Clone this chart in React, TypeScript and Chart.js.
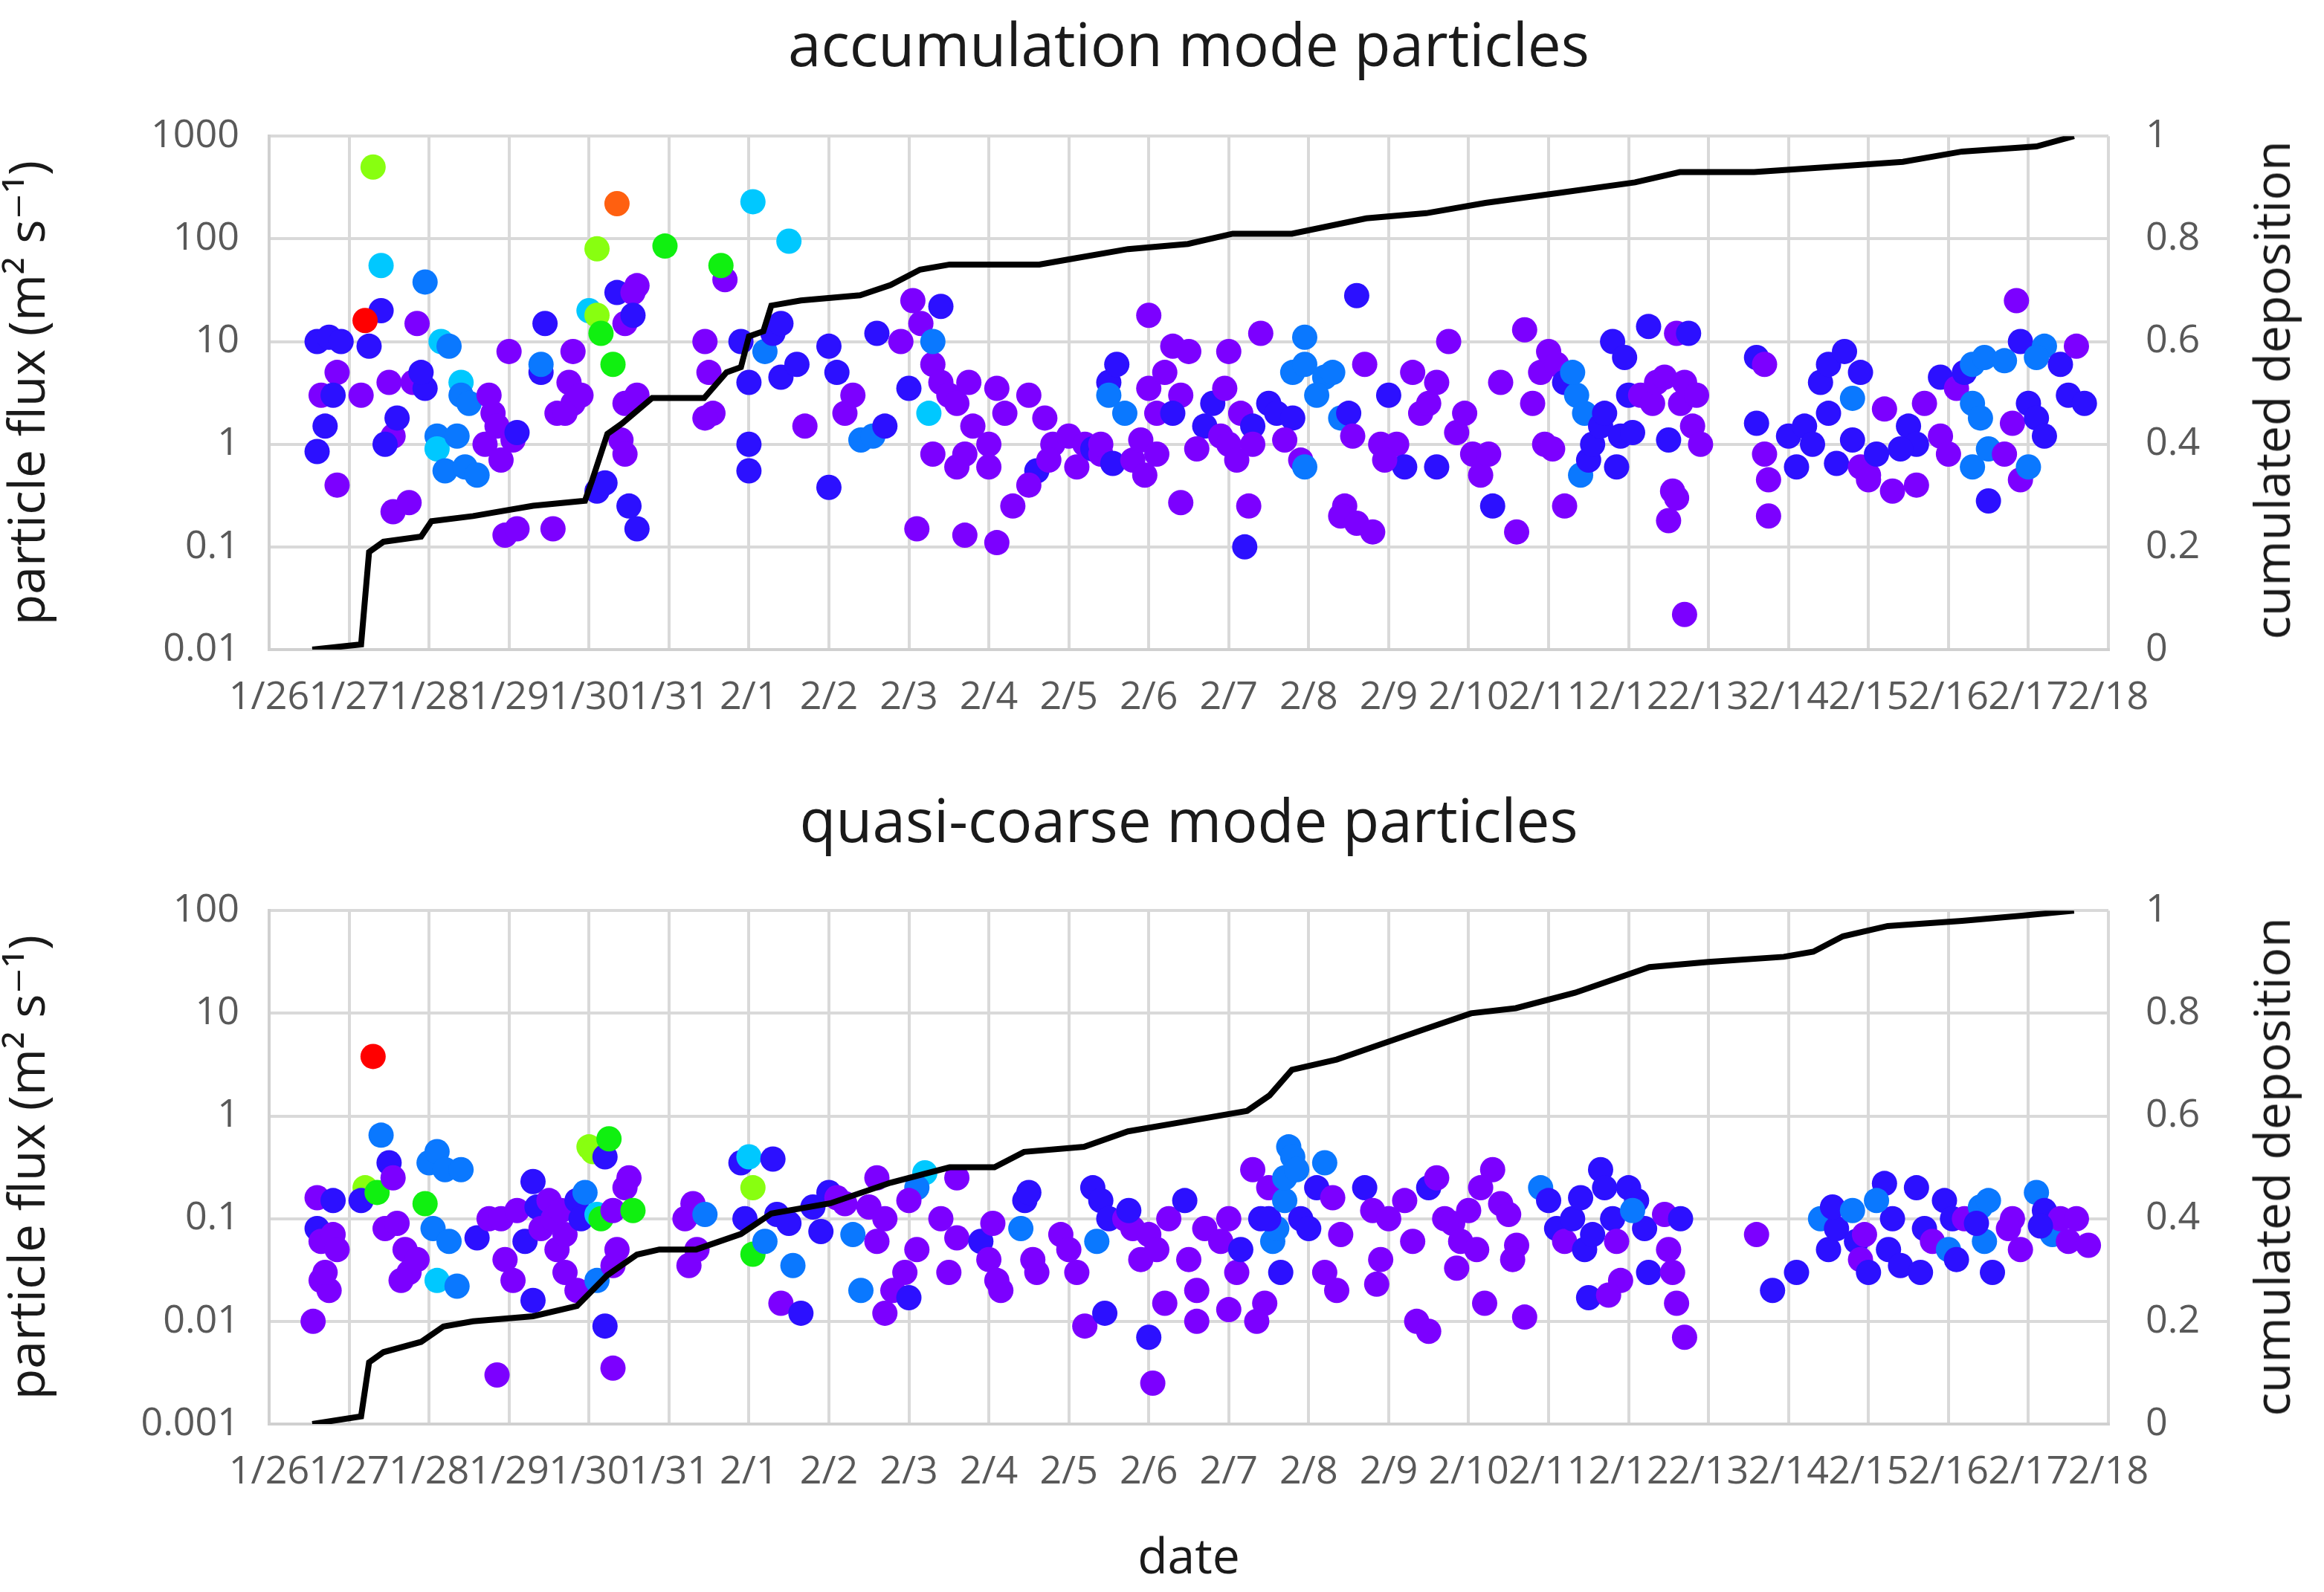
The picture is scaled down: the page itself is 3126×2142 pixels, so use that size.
import React, { useEffect, useRef } from "react";
import { Chart, registerables } from "chart.js";
Chart.register(...registerables);

const dateLabels = ["1/26","1/27","1/28","1/29","1/30","1/31","2/1","2/2","2/3","2/4","2/5","2/6","2/7","2/8","2/9","2/10","2/11","2/12","2/13","2/14","2/15","2/16","2/17","2/18"];
const topLogTicks = [0.01, 0.1, 1, 10, 100, 1000];
const bottomLogTicks = [0.001, 0.01, 0.1, 1, 10, 100];
const rightTicks = [0, 0.2, 0.4, 0.6, 0.8, 1];

const colorCodes: Record<string, string> = {
  p: "#7c00ff", b: "#2c10ff", l: "#0a78ff", c: "#00c8ff", g: "#10f010", y: "#88ff10", o: "#ff6010", r: "#ff0000",
};

// [day, flux, colour code]
const topPoints: [number, number, string][] = [
  [0.6,10,"b"],[0.65,3,"p"],[0.6,0.85,"b"],[0.7,1.5,"b"],[0.75,11,"b"],
  [0.85,5,"p"],[0.8,3,"b"],[0.85,0.4,"p"],[0.9,10,"b"],
  [1.15,3,"p"],[1.25,9,"b"],[1.4,20,"b"],[1.4,55,"c"],[1.2,16,"r"],[1.3,500,"y"],
  [1.55,1.2,"p"],[1.5,4,"p"],[1.6,1.8,"b"],[1.55,0.22,"p"],[1.75,0.27,"p"],[1.45,1,"b"],
  [1.85,15,"p"],[1.8,4,"p"],[1.95,3.5,"b"],[1.95,38,"l"],[1.9,5,"b"],
  [2.15,10,"c"],[2.1,1.2,"l"],[2.1,0.9,"c"],[2.2,0.55,"l"],[2.25,9,"l"],
  [2.4,4,"c"],[2.4,3,"l"],[2.5,2.5,"l"],[2.45,0.6,"l"],[2.35,1.2,"l"],[2.6,0.5,"l"],
  [2.75,3,"p"],[2.8,2,"p"],[2.85,1.5,"p"],[2.7,1,"p"],[2.9,0.7,"p"],
  [3.0,8,"p"],[3.05,1.1,"p"],[2.95,0.13,"p"],[3.1,0.15,"p"],[3.1,1.3,"b"],
  [3.4,5,"b"],[3.4,6,"l"],[3.45,15,"b"],[3.55,0.15,"p"],[3.6,2,"p"],
  [3.75,4,"p"],[3.8,2.5,"p"],[3.8,8,"p"],[3.7,2,"p"],[3.9,3,"p"],
  [4.0,20,"c"],[4.1,0.35,"b"],[4.2,0.42,"b"],[4.35,30,"b"],
  [4.45,15,"p"],[4.6,35,"p"],[4.55,30,"p"],[4.55,18,"b"],[4.4,1.1,"p"],[4.45,0.8,"p"],[4.5,0.25,"b"],[4.6,0.15,"b"],[4.45,2.5,"p"],[4.6,3,"p"],
  [4.1,18,"y"],[4.15,12,"g"],[4.1,80,"y"],[4.3,6,"g"],[4.35,220,"o"],[4.95,85,"g"],
  [5.7,40,"p"],[5.45,10,"p"],[5.5,5,"p"],[5.55,2,"p"],[5.45,1.8,"p"],[5.65,55,"g"],
  [5.9,10,"b"],[6.0,4,"b"],[6.0,1,"b"],[6.0,0.55,"b"],[6.05,230,"c"],
  [6.5,95,"c"],[6.2,8,"l"],[6.3,12,"b"],[6.4,15,"b"],[6.4,4.5,"b"],[6.6,6,"b"],[6.7,1.5,"p"],
  [7.0,9,"b"],[7.1,5,"b"],[7.2,2,"p"],[7.3,3,"p"],[7.4,1.1,"l"],[7.0,0.38,"b"],
  [7.6,12,"b"],[7.55,1.2,"l"],[7.7,1.5,"b"],
  [7.9,10,"p"],[8.0,3.5,"b"],[8.05,25,"p"],[8.15,15,"p"],[8.3,6,"p"],
  [8.3,10,"l"],[8.25,2,"c"],[8.4,4,"p"],[8.4,22,"b"],[8.3,0.8,"p"],[8.5,3,"p"],
  [8.6,2.5,"p"],[8.1,0.15,"p"],[8.6,0.6,"p"],[8.75,4,"p"],[8.7,0.8,"p"],[8.8,1.5,"p"],
  [8.7,0.13,"p"],[9.0,0.6,"p"],[9.1,3.5,"p"],[9.2,2,"p"],[9.1,0.11,"p"],[9.0,1,"p"],[9.3,0.25,"p"],
  [9.6,0.55,"b"],[9.5,3,"p"],[9.7,1.8,"p"],[9.8,1,"p"],[9.5,0.4,"p"],[9.75,0.7,"p"],
  [10.0,1.2,"p"],[10.2,1,"p"],[10.1,0.6,"p"],[10.3,0.9,"b"],[10.4,0.8,"p"],
  [10.5,4,"b"],[10.6,6,"b"],[10.5,3,"l"],[10.7,2,"l"],[10.4,1,"p"],[10.55,0.65,"b"],[10.8,0.7,"p"],
  [10.9,1.1,"p"],[11.0,3.5,"p"],[11.1,2,"p"],[10.95,0.5,"p"],[11.0,18,"p"],
  [11.3,9,"p"],[11.2,5,"p"],[11.4,3,"p"],[11.3,2,"b"],[11.4,0.27,"p"],[11.1,0.8,"p"],[11.5,8,"p"],
  [11.7,1.5,"b"],[11.8,2.5,"b"],[11.9,1.2,"p"],[11.6,0.9,"p"],[12.0,1,"p"],[12.1,0.7,"p"],
  [12.0,8,"p"],[12.15,2,"p"],[12.3,1.5,"b"],[11.95,3.5,"p"],
  [12.4,12,"p"],[12.5,2.5,"b"],[12.3,1,"p"],[12.6,2,"b"],[12.2,0.1,"b"],[12.25,0.25,"p"],
  [12.8,1.8,"b"],[12.7,1.1,"p"],[12.9,0.7,"p"],[12.95,0.6,"l"],[12.8,5,"l"],[12.95,6,"l"],
  [13.2,4.5,"l"],[13.1,3,"l"],[13.3,5,"l"],[13.4,1.8,"l"],[13.5,2,"b"],[13.6,28,"b"],[12.95,11,"l"],
  [13.7,6,"p"],[13.55,1.2,"p"],[13.45,0.25,"p"],[13.4,0.2,"p"],[13.6,0.17,"p"],[13.8,0.14,"p"],[13.9,1,"p"],
  [14.0,3,"b"],[14.1,1,"p"],[14.2,0.6,"b"],[13.95,0.7,"p"],[14.3,5,"p"],[14.4,2,"p"],
  [14.5,2.5,"p"],[14.6,4,"p"],[14.75,10,"p"],[14.6,0.6,"b"],[14.85,1.3,"p"],
  [14.95,2,"p"],[15.05,0.8,"p"],[15.15,0.5,"p"],[15.25,0.8,"p"],[15.3,0.25,"b"],
  [15.4,4,"p"],[15.6,0.14,"p"],[15.7,13,"p"],[15.8,2.5,"p"],[15.9,5,"p"],
  [16.0,8,"p"],[16.1,6,"p"],[16.2,0.25,"p"],[15.95,1,"p"],[16.05,0.9,"p"],
  [16.2,4,"b"],[16.35,3,"l"],[16.45,2,"l"],[16.3,5,"l"],[16.4,0.5,"l"],[16.5,0.7,"b"],[16.55,1,"b"],[16.65,1.5,"b"],
  [16.7,2,"b"],[16.8,10,"b"],[16.9,1.2,"b"],[16.95,7,"b"],[16.85,0.6,"b"],[17.0,3,"b"],
  [17.05,1.3,"b"],[17.15,3,"p"],[17.25,14,"b"],[17.3,2.5,"p"],[17.35,4,"p"],
  [17.45,4.5,"p"],[17.5,1.1,"b"],[17.6,12,"p"],[17.65,2.5,"p"],[17.55,0.35,"p"],[17.5,0.18,"p"],
  [17.75,12,"b"],[17.8,1.5,"p"],[17.7,4,"p"],[17.6,0.3,"p"],[17.9,1,"p"],[17.7,0.022,"p"],[17.85,3,"p"],
  [18.6,7,"b"],[18.7,6,"p"],[18.6,1.6,"b"],[18.7,0.8,"p"],[18.75,0.45,"p"],[18.75,0.2,"p"],
  [19.0,1.2,"b"],[19.1,0.6,"b"],[19.2,1.5,"b"],
  [19.4,4,"b"],[19.5,6,"b"],[19.5,2,"b"],[19.3,1,"b"],[19.6,0.65,"b"],[19.7,8,"b"],
  [19.8,2.8,"l"],[19.9,5,"b"],[19.8,1.1,"b"],[19.9,0.6,"p"],[20.0,0.5,"p"],
  [20.2,2.2,"p"],[20.3,0.35,"p"],[20.1,0.8,"b"],[20.0,0.45,"p"],
  [20.5,1.5,"b"],[20.6,1,"b"],[20.4,0.9,"b"],[20.7,2.5,"p"],[20.6,0.4,"p"],
  [20.9,1.2,"p"],[21.0,0.8,"p"],[20.9,4.5,"b"],[21.1,3.5,"p"],
  [21.2,5,"b"],[21.3,2.5,"l"],[21.4,1.8,"l"],[21.3,6,"l"],[21.45,7,"l"],[21.3,0.6,"l"],[21.5,0.28,"b"],[21.5,0.9,"l"],
  [21.7,6.5,"l"],[21.9,10,"b"],[21.7,0.8,"p"],[21.8,1.6,"p"],[21.85,25,"p"],[21.9,0.45,"p"],
  [22.0,2.5,"b"],[22.1,1.8,"b"],[22.2,1.2,"b"],[22.0,0.6,"l"],[22.2,9,"l"],[22.1,7,"l"],
  [22.4,6,"b"],[22.5,3,"b"],[22.6,9,"p"],[22.7,2.5,"b"],
];

const bottomPoints: [number, number, string][] = [
  [0.55,0.01,"p"],[0.6,0.16,"p"],[0.6,0.08,"b"],[0.65,0.06,"p"],[0.65,0.025,"p"],[0.75,0.02,"p"],
  [0.8,0.15,"b"],[0.8,0.07,"p"],[0.85,0.05,"p"],[0.7,0.03,"p"],
  [1.2,0.2,"y"],[1.15,0.15,"b"],[1.3,3.8,"r"],[1.4,0.65,"l"],[1.35,0.18,"g"],
  [1.5,0.35,"b"],[1.55,0.25,"p"],[1.45,0.08,"p"],[1.6,0.09,"p"],
  [1.7,0.05,"p"],[1.75,0.03,"p"],[1.65,0.025,"p"],[1.85,0.04,"p"],
  [2.0,0.35,"l"],[2.1,0.45,"l"],[2.2,0.3,"l"],[2.05,0.08,"l"],[2.1,0.025,"c"],[1.95,0.14,"g"],
  [2.4,0.3,"l"],[2.25,0.06,"l"],[2.35,0.022,"l"],
  [2.6,0.065,"b"],[2.75,0.1,"p"],[2.85,0.003,"p"],[2.9,0.1,"p"],
  [2.95,0.04,"p"],[3.05,0.025,"p"],[3.1,0.12,"p"],[3.2,0.06,"b"],
  [3.3,0.23,"b"],[3.35,0.13,"b"],[3.3,0.016,"b"],[3.4,0.08,"p"],[3.5,0.15,"p"],
  [3.55,0.1,"p"],[3.6,0.05,"p"],[3.65,0.12,"p"],[3.7,0.07,"p"],[3.7,0.03,"p"],
  [3.85,0.15,"b"],[3.9,0.1,"b"],[3.95,0.18,"l"],[3.85,0.02,"p"],
  [4.0,0.5,"y"],[4.05,0.45,"y"],[4.2,0.4,"b"],[4.25,0.6,"g"],[4.1,0.11,"c"],[4.15,0.1,"g"],[4.1,0.025,"l"],[4.2,0.009,"b"],[4.3,0.0035,"p"],
  [4.3,0.12,"p"],[4.45,0.2,"p"],[4.5,0.25,"p"],[4.35,0.05,"p"],[4.3,0.035,"p"],[4.55,0.12,"g"],
  [5.3,0.14,"p"],[5.2,0.1,"p"],[5.25,0.035,"p"],[5.35,0.05,"p"],[5.45,0.11,"l"],
  [5.9,0.35,"b"],[6.0,0.4,"c"],[6.05,0.2,"y"],[5.95,0.1,"b"],[6.05,0.045,"g"],[6.2,0.06,"l"],[6.3,0.38,"b"],
  [6.35,0.11,"b"],[6.5,0.09,"b"],[6.4,0.015,"p"],[6.55,0.035,"l"],[6.65,0.012,"b"],
  [6.8,0.13,"b"],[6.9,0.075,"b"],[7.0,0.18,"b"],[7.1,0.16,"p"],[7.2,0.14,"p"],
  [7.3,0.07,"l"],[7.4,0.02,"l"],[7.5,0.13,"p"],
  [7.6,0.25,"p"],[7.7,0.1,"p"],[7.6,0.06,"p"],[7.8,0.02,"p"],[7.7,0.012,"p"],
  [8.2,0.28,"c"],[8.1,0.2,"l"],[8.0,0.15,"p"],[8.1,0.05,"p"],[7.95,0.03,"p"],[8.0,0.017,"b"],
  [8.4,0.1,"p"],[8.5,0.03,"p"],[8.6,0.065,"p"],[8.6,0.25,"p"],
  [8.9,0.06,"b"],[9.0,0.04,"p"],[9.1,0.025,"p"],[9.15,0.02,"p"],[9.05,0.09,"p"],
  [9.45,0.15,"b"],[9.5,0.18,"b"],[9.4,0.08,"l"],[9.6,0.03,"p"],[9.55,0.04,"p"],
  [9.9,0.07,"p"],[10.0,0.05,"p"],[10.1,0.03,"p"],[10.2,0.009,"p"],
  [10.3,0.2,"b"],[10.4,0.15,"b"],[10.5,0.1,"b"],[10.45,0.012,"b"],[10.35,0.06,"l"],
  [10.7,0.1,"p"],[10.8,0.08,"p"],[10.9,0.04,"p"],[10.75,0.12,"b"],
  [11.0,0.07,"p"],[11.1,0.05,"p"],[11.2,0.015,"p"],[11.0,0.007,"b"],[11.05,0.0025,"p"],[11.25,0.1,"p"],
  [11.5,0.04,"p"],[11.6,0.02,"p"],[11.7,0.08,"p"],[11.6,0.01,"p"],[11.45,0.15,"b"],
  [11.9,0.06,"p"],[12.0,0.1,"p"],[12.1,0.03,"p"],[12.0,0.013,"p"],[12.15,0.05,"b"],
  [12.3,0.3,"p"],[12.4,0.1,"b"],[12.5,0.2,"p"],[12.45,0.015,"p"],[12.35,0.01,"p"],[12.55,0.06,"l"],
  [12.6,0.08,"l"],[12.65,0.03,"b"],[12.5,0.1,"b"],[12.7,0.15,"l"],
  [12.7,0.25,"l"],[12.75,0.5,"l"],[12.8,0.4,"l"],[12.85,0.3,"l"],[12.9,0.1,"b"],[13.0,0.08,"b"],
  [13.1,0.2,"b"],[13.2,0.35,"l"],[13.3,0.16,"p"],[13.2,0.03,"p"],[13.35,0.02,"p"],[13.4,0.07,"p"],
  [13.7,0.2,"b"],[13.8,0.12,"p"],[13.9,0.04,"p"],[13.85,0.023,"p"],[14.0,0.1,"p"],
  [14.2,0.15,"p"],[14.3,0.06,"p"],[14.35,0.01,"p"],[14.5,0.008,"p"],[14.5,0.2,"b"],
  [14.6,0.25,"p"],[14.7,0.1,"p"],[14.8,0.09,"p"],[14.9,0.06,"p"],[14.85,0.033,"p"],
  [15.0,0.12,"p"],[15.1,0.05,"p"],[15.15,0.2,"p"],[15.2,0.015,"p"],[15.3,0.3,"p"],
  [15.4,0.14,"p"],[15.5,0.11,"p"],[15.6,0.055,"p"],[15.55,0.04,"p"],[15.7,0.011,"p"],
  [15.9,0.2,"l"],[16.0,0.15,"b"],[16.1,0.08,"b"],[16.2,0.06,"p"],
  [16.3,0.1,"b"],[16.4,0.16,"b"],[16.45,0.05,"b"],[16.5,0.017,"b"],[16.55,0.07,"b"],
  [16.65,0.3,"b"],[16.7,0.2,"b"],[16.8,0.1,"b"],[16.85,0.06,"p"],[16.9,0.025,"p"],[16.75,0.018,"p"],
  [17.0,0.2,"b"],[17.1,0.15,"b"],[17.2,0.08,"b"],[17.25,0.03,"b"],[17.05,0.12,"l"],
  [17.45,0.11,"p"],[17.5,0.05,"p"],[17.55,0.03,"p"],[17.6,0.015,"p"],[17.7,0.007,"p"],[17.65,0.1,"b"],
  [18.6,0.07,"p"],[18.8,0.02,"b"],
  [19.1,0.03,"b"],
  [19.4,0.1,"l"],[19.5,0.05,"b"],[19.6,0.08,"b"],[19.55,0.13,"b"],
  [19.8,0.12,"l"],[19.85,0.06,"b"],[19.9,0.04,"p"],[20.0,0.03,"b"],[19.95,0.07,"p"],
  [20.2,0.22,"b"],[20.3,0.1,"b"],[20.25,0.05,"b"],[20.4,0.035,"b"],[20.1,0.15,"l"],
  [20.6,0.2,"b"],[20.7,0.08,"b"],[20.65,0.03,"b"],[20.8,0.06,"p"],
  [20.95,0.15,"b"],[21.05,0.1,"b"],[21.0,0.05,"l"],[21.1,0.04,"b"],[21.2,0.1,"p"],
  [21.4,0.13,"l"],[21.5,0.15,"l"],[21.45,0.06,"l"],[21.55,0.03,"b"],[21.35,0.09,"b"],
  [21.8,0.1,"p"],[21.9,0.05,"p"],[21.75,0.08,"p"],
  [22.1,0.18,"l"],[22.2,0.12,"b"],[22.3,0.07,"l"],[22.4,0.1,"p"],[22.15,0.085,"b"],
  [22.5,0.06,"p"],[22.6,0.1,"p"],[22.75,0.055,"p"],
];

// [day, cumulated deposition]
const topCumulative: [number, number][] = [
  [0.54,0],[1.15,0.01],[1.25,0.19],[1.43,0.21],[1.9,0.22],[2.03,0.25],[2.55,0.26],[3.3,0.28],[3.95,0.29],
  [4.04,0.33],[4.23,0.42],[4.41,0.44],[4.79,0.49],[5.44,0.49],[5.72,0.54],[5.9,0.55],[6.0,0.61],[6.18,0.62],
  [6.28,0.67],[6.65,0.68],[7.39,0.69],[7.77,0.71],[8.14,0.74],[8.51,0.75],[9.63,0.75],[10.0,0.76],[10.74,0.78],
  [11.49,0.79],[12.05,0.81],[12.79,0.81],[13.72,0.84],[14.47,0.85],[15.21,0.87],[16.15,0.89],[17.08,0.91],
  [17.64,0.93],[18.57,0.93],[19.5,0.94],[20.43,0.95],[21.17,0.97],[22.1,0.98],[22.57,1.0],
];
const bottomCumulative: [number, number][] = [
  [0.54,0],[1.15,0.015],[1.25,0.12],[1.43,0.14],[1.9,0.16],[2.18,0.19],[2.55,0.2],[3.3,0.21],[3.85,0.23],
  [4.23,0.29],[4.6,0.33],[4.88,0.34],[5.34,0.34],[5.9,0.37],[6.28,0.41],[7.02,0.43],[7.77,0.47],[8.51,0.5],
  [9.07,0.5],[9.44,0.53],[10.19,0.54],[10.74,0.57],[11.49,0.59],[12.23,0.61],[12.51,0.64],[12.79,0.69],
  [13.35,0.71],[13.91,0.74],[14.47,0.77],[15.03,0.8],[15.59,0.81],[16.33,0.84],[16.7,0.86],[17.26,0.89],
  [18.0,0.9],[18.94,0.91],[19.31,0.92],[19.68,0.95],[20.24,0.97],[21.17,0.98],[21.92,0.99],[22.57,1],
];

const FONT = "'Open Sans', 'DejaVu Sans', sans-serif";
const GREY = "#595959";
const TEXT = "#1a1a1a";

function fmt(v: number) {
  return String(v);
}

function makeConfig(points: [number, number, string][], cum: [number, number][], logTicks: number[], xTitle: boolean, xAxisHeight: number): any {
  return {
    type: "scatter",
    data: {
      datasets: [
        {
          type: "line",
          data: cum.map(([x, y]) => ({ x, y })),
          yAxisID: "y1",
          borderColor: "#000",
          borderWidth: 8,
          pointRadius: 0,
          tension: 0,
          order: 0,
        },
        {
          type: "scatter",
          data: points.map(([x, y]) => ({ x, y })),
          yAxisID: "y",
          pointRadius: 17,
          pointBackgroundColor: points.map((p) => colorCodes[p[2]]),
          pointBorderWidth: 0,
          order: 1,
        },
      ],
    },
    options: {
      animation: false,
      responsive: false,
      devicePixelRatio: 1,
      layout: { padding: 0 },
      plugins: { legend: { display: false }, tooltip: { enabled: false }, title: { display: false } },
      scales: {
        x: {
          type: "linear",
          min: 0,
          max: 23,
          afterBuildTicks: (s: any) => { s.ticks = dateLabels.map((_, i) => ({ value: i })); },
          afterFit: (s: any) => { s.height = xAxisHeight; },
          ticks: {
            autoSkip: false, maxRotation: 0, minRotation: 0, padding: 34,
            color: GREY, font: { family: FONT, size: 52 },
            callback: (v: number) => dateLabels[Math.round(v)] ?? "",
          },
          grid: { color: "#d9d9d9", lineWidth: 4, drawTicks: false },
          border: { color: "#d0d0d0", width: 4 },
          title: xTitle ? { display: true, text: "date", color: TEXT, font: { family: FONT, size: 66 }, padding: { top: 40, bottom: 0 } } : { display: false },
        },
        y: {
          type: "logarithmic",
          position: "left",
          min: logTicks[0],
          max: logTicks[logTicks.length - 1],
          afterBuildTicks: (s: any) => { s.ticks = logTicks.map((v) => ({ value: v })); },
          afterFit: (s: any) => { s.width = 362; },
          ticks: { color: GREY, font: { family: FONT, size: 52 }, padding: 40, callback: (v: number) => fmt(v) },
          grid: { color: "#d9d9d9", lineWidth: 4, drawTicks: false },
          border: { color: "#d0d0d0", width: 4 },
          title: { display: true, text: "particle flux (m² s⁻¹)", color: TEXT, font: { family: FONT, size: 68 }, padding: { top: 0, bottom: 10 } },
        },
        y1: {
          type: "linear",
          position: "right",
          min: 0,
          max: 1,
          afterBuildTicks: (s: any) => { s.ticks = rightTicks.map((v) => ({ value: v })); },
          afterFit: (s: any) => { s.width = 274; },
          ticks: { color: GREY, font: { family: FONT, size: 52 }, padding: 50, callback: (v: number) => fmt(v) },
          grid: { display: false, drawTicks: false },
          border: { display: false },
        },
      },
    },
  };
}

function ChartCanvas({ cfg, width, height }: { cfg: () => any; width: number; height: number }) {
  const ref = useRef<HTMLCanvasElement>(null);
  useEffect(() => {
    const c = new Chart(ref.current!, cfg());
    return () => c.destroy();
  }, []);
  return <canvas ref={ref} width={width} height={height} style={{ width, height, display: "block" }} />;
}

const titleStyle: React.CSSProperties = {
  position: "absolute", left: 362, width: 2474, textAlign: "center",
  fontFamily: FONT, fontSize: 80, color: TEXT, lineHeight: "100px",
};

const rightTitleStyle: React.CSSProperties = {
  position: "absolute", left: 3054, whiteSpace: "nowrap",
  transform: "translate(-50%, -50%) rotate(-90deg)",
  fontFamily: FONT, fontSize: 66, color: TEXT,
};

export default function App() {
  return (
    <div style={{ position: "absolute", left: 0, top: 0, width: 3126, height: 2142, background: "#fff" }}>
      <div style={{ ...titleStyle, top: 8 }}>accumulation mode particles</div>
      <div style={{ ...titleStyle, top: 1052 }}>quasi-coarse mode particles</div>
      <div style={{ position: "absolute", left: 0, top: 102 }}>
        <ChartCanvas width={3110} height={864} cfg={() => makeConfig(topPoints, topCumulative, topLogTicks, false, 92)} />
      </div>
      <div style={{ position: "absolute", left: 0, top: 1144 }}>
        <ChartCanvas width={3110} height={994} cfg={() => makeConfig(bottomPoints, bottomCumulative, bottomLogTicks, true, 222)} />
      </div>
      <div style={{ ...rightTitleStyle, top: 525 }}>cumulated deposition</div>
      <div style={{ ...rightTitleStyle, top: 1570 }}>cumulated deposition</div>
    </div>
  );
}
